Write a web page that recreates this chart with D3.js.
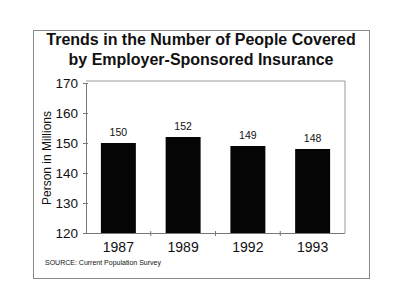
<!DOCTYPE html>
<meta charset="utf-8">
<body style="margin:0;background:#fff">
<style>
  text { font-family: "Liberation Sans", Arial, sans-serif; fill: #111; }
  .title { font-size: 16px; font-weight: bold; }
</style>
<svg width="400" height="305"></svg>
<script src="https://d3js.org/d3.v7.min.js"></script>
<script>
var years = ["1987", "1989", "1992", "1993"];
var people = [150, 152, 149, 148];
var yTicks = [120, 130, 140, 150, 160, 170];

var svg = d3.select("svg");

// outer frame
svg.append("rect")
    .attr("x", 33.5).attr("y", 30.5)
    .attr("width", 336).attr("height", 248)
    .attr("fill", "none").attr("stroke", "#888").attr("stroke-width", 1);

svg.append("text").attr("class", "title")
    .attr("x", 201).attr("y", 45).attr("text-anchor", "middle")
    .text("Trends in the Number of People Covered");
svg.append("text").attr("class", "title")
    .attr("x", 201).attr("y", 65).attr("text-anchor", "middle")
    .text("by Employer-Sponsored Insurance");

var plotL = 86, plotR = 345, plotT = 83, plotB = 233;

var x = d3.scaleBand().domain(years).range([plotL, plotR]).paddingInner(0.46).paddingOuter(0.23);
var y = d3.scaleLinear().domain([120, 170]).range([plotB, plotT]);

// plot frame
svg.append("path")
    .attr("d", "M" + plotL + "," + (plotT - 2) + "H" + plotR + "V" + plotB)
    .attr("fill", "none").attr("stroke", "#999");

svg.selectAll(".bar")
    .data(years)
    .enter().append("rect")
    .attr("x", function(d) { return x(d); })
    .attr("width", x.bandwidth())
    .attr("y", function(d, i) { return y(people[i]); })
    .attr("height", function(d, i) { return plotB - y(people[i]); })
    .attr("fill", "#050505");

svg.selectAll(".val")
    .data(years)
    .enter().append("text")
    .attr("x", function(d) { return x(d) + x.bandwidth() / 2; })
    .attr("y", function(d, i) { return y(people[i]) - 7; })
    .attr("text-anchor", "middle")
    .style("font-size", "10.5px")
    .text(function(d, i) { return people[i]; });

var yAxis = svg.append("g")
    .attr("transform", "translate(" + plotL + ",0)")
    .call(d3.axisLeft(y).tickValues(yTicks).tickSize(3).tickPadding(5));
yAxis.select(".domain").attr("stroke", "#777");
yAxis.selectAll(".tick line").attr("stroke", "#777").attr("x2", -3).attr("x1", 2);
yAxis.selectAll("text").style("font-size", "13.5px").attr("fill", "#111")
    .style("font-family", "'Liberation Sans', Arial, sans-serif");

var xAxis = svg.append("g")
    .attr("transform", "translate(0," + plotB + ")")
    .call(d3.axisBottom(x).tickSize(0).tickPadding(9));
xAxis.select(".domain").attr("stroke", "#777").attr("d", "M" + plotL + ",0.5H" + plotR);
xAxis.selectAll("text").style("font-size", "14px").attr("fill", "#111")
    .style("font-family", "'Liberation Sans', Arial, sans-serif");

// separators between categories
svg.selectAll(".sep")
    .data(years.slice(1))
    .enter().append("line")
    .attr("x1", function(d) { return x(d) - x.step() * x.paddingInner() / 2; })
    .attr("x2", function(d) { return x(d) - x.step() * x.paddingInner() / 2; })
    .attr("y1", plotB - 2).attr("y2", plotB + 3)
    .attr("stroke", "#777");

svg.append("text")
    .attr("transform", "translate(51,158) rotate(-90)")
    .attr("text-anchor", "middle")
    .style("font-size", "12px")
    .text("Person in Millions");

svg.append("text")
    .attr("x", 45).attr("y", 265)
    .style("font-size", "7px")
    .text("SOURCE:  Current Population Survey");
</script>
</body>
